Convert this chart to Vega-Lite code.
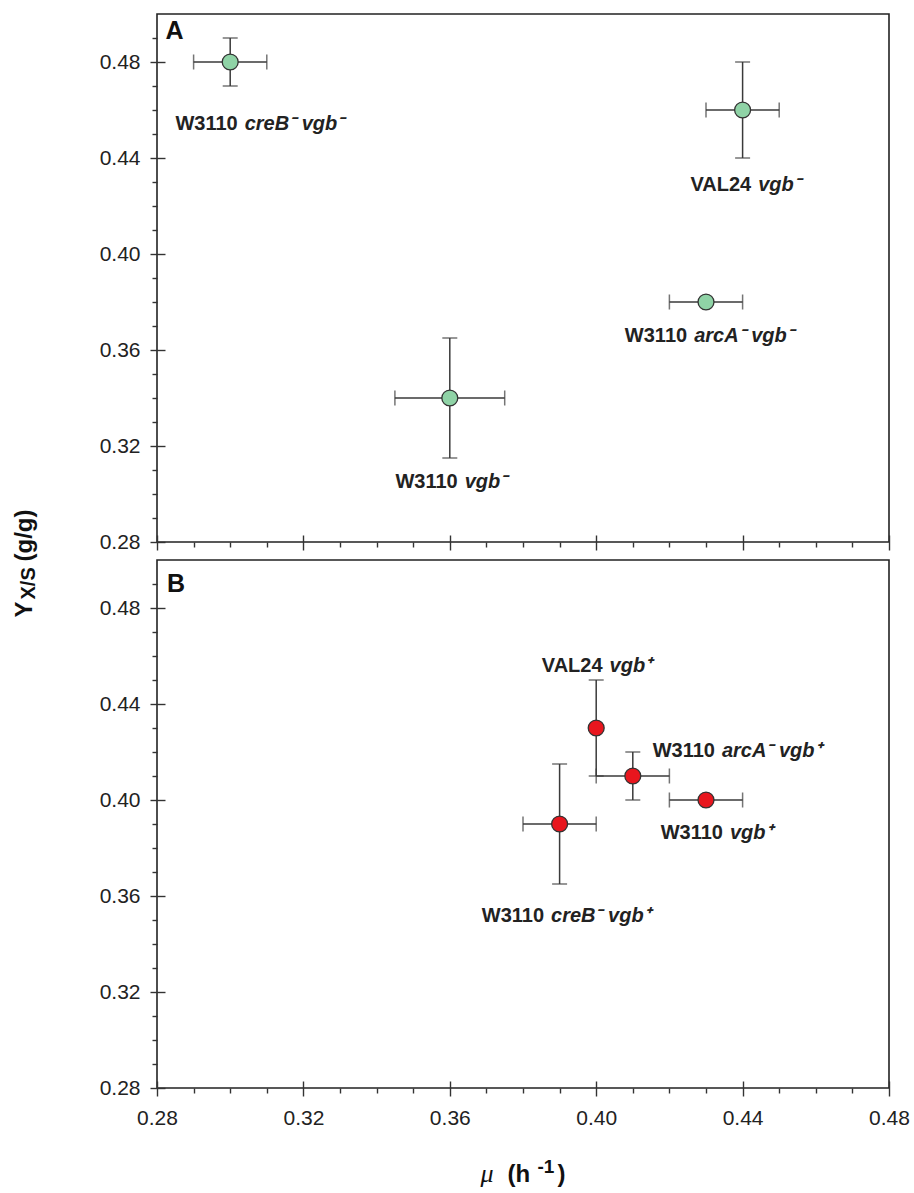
{
  "$schema": "https://vega.github.io/schema/vega-lite/v6.json",
  "background": "white",
  "padding": {"left": 11, "top": 13, "right": 10, "bottom": 5},
  "datasets": {
    "A": [
      {"strain": "W3110", "geno": "creB⁻ vgb⁻", "mu": 0.30, "muLo": 0.29, "muHi": 0.31, "yxs": 0.48, "yLo": 0.47, "yHi": 0.49, "lx": 0.3030, "ly": 0.4517},
      {"strain": "VAL24", "geno": "vgb⁻", "mu": 0.44, "muLo": 0.43, "muHi": 0.45, "yxs": 0.46, "yLo": 0.44, "yHi": 0.48, "lx": 0.4433, "ly": 0.4261},
      {"strain": "W3110", "geno": "arcA⁻ vgb⁻", "mu": 0.43, "muLo": 0.42, "muHi": 0.44, "yxs": 0.38, "yLo": null, "yHi": null, "lx": 0.4258, "ly": 0.3635},
      {"strain": "W3110", "geno": "vgb⁻", "mu": 0.36, "muLo": 0.345, "muHi": 0.375, "yxs": 0.34, "yLo": 0.315, "yHi": 0.365, "lx": 0.3631, "ly": 0.3027}
    ],
    "B": [
      {"strain": "VAL24", "geno": "vgb⁺", "mu": 0.40, "muLo": null, "muHi": null, "yxs": 0.43, "yLo": 0.41, "yHi": 0.45, "lx": 0.4027, "ly": 0.4535},
      {"strain": "W3110", "geno": "arcA⁻ vgb⁺", "mu": 0.41, "muLo": 0.40, "muHi": 0.42, "yxs": 0.41, "yLo": 0.40, "yHi": 0.42, "lx": 0.4334, "ly": 0.4178},
      {"strain": "W3110", "geno": "vgb⁺", "mu": 0.43, "muLo": 0.42, "muHi": 0.44, "yxs": 0.40, "yLo": null, "yHi": null, "lx": 0.4356, "ly": 0.3838},
      {"strain": "W3110", "geno": "creB⁻ vgb⁺", "mu": 0.39, "muLo": 0.38, "muHi": 0.40, "yxs": 0.39, "yLo": 0.365, "yHi": 0.415, "lx": 0.3867, "ly": 0.349}
    ],
    "LA": [{"letter": "A", "lx": 0.2823, "ly": 0.4894}],
    "LB": [{"letter": "B", "lx": 0.2827, "ly": 0.4865}]
  },
  "vconcat": [
    {
      "width": 732,
      "height": 528,
      "data": {"name": "A"},
      "layer": [
        {
          "transform": [{"filter": "datum.yLo != null"}],
          "mark": {"type": "errorbar", "ticks": {"size": 15, "thickness": 1.5, "color": "#3a3a3a"}, "rule": {"strokeWidth": 1.5, "color": "#3a3a3a"}},
          "encoding": {
            "x": {"field": "mu", "type": "quantitative", "scale": {"domain": [0.28, 0.48], "nice": false, "zero": false},
              "axis": {"orient": "bottom", "values": [0.28, 0.32, 0.36, 0.40, 0.44, 0.48], "tickSize": 15, "offset": -7, "labels": false, "title": null}},
            "y": {"field": "yLo", "type": "quantitative", "scale": {"domain": [0.28, 0.50], "nice": false, "zero": false},
              "axis": {"orient": "left", "values": [0.28, 0.32, 0.36, 0.40, 0.44, 0.48], "tickSize": 15, "offset": -8, "format": ".2f", "labelPadding": 10, "title": null}},
            "y2": {"field": "yHi"}
          }
        },
        {
          "transform": [{"filter": "datum.muLo != null"}],
          "mark": {"type": "errorbar", "ticks": {"size": 15, "thickness": 1.5, "color": "#3a3a3a"}, "rule": {"strokeWidth": 1.5, "color": "#3a3a3a"}},
          "encoding": {
            "x": {"field": "muLo", "type": "quantitative",
              "axis": {"orient": "bottom", "values": [0.29, 0.30, 0.31, 0.33, 0.34, 0.35, 0.37, 0.38, 0.39, 0.41, 0.42, 0.43, 0.45, 0.46, 0.47], "tickSize": 5, "labels": false, "title": null}},
            "x2": {"field": "muHi"},
            "y": {"field": "yxs", "type": "quantitative",
              "axis": {"orient": "left", "values": [0.29, 0.30, 0.31, 0.33, 0.34, 0.35, 0.37, 0.38, 0.39, 0.41, 0.42, 0.43, 0.45, 0.46, 0.47, 0.49], "tickSize": 5, "labels": false, "title": null}}
          }
        },
        {
          "mark": {"type": "point", "shape": "circle", "filled": true, "size": 254, "fill": "#8fd3a6", "stroke": "#333333", "strokeWidth": 1.3, "opacity": 1},
          "encoding": {
            "x": {"field": "mu", "type": "quantitative", "axis": null},
            "y": {"field": "yxs", "type": "quantitative",
              "axis": {"orient": "left", "labels": false, "ticks": false, "domain": false, "title": "Y", "titleAngle": 270, "titleX": -126, "titleY": 603, "titleAlign": "left", "titleBaseline": "alphabetic", "titleFontSize": 24, "titleFontWeight": "bold"}}
          }
        },
        {
          "mark": {"type": "text", "align": "right", "baseline": "alphabetic", "dx": -3.5, "fontSize": 20, "fontWeight": "bold", "color": "#222222"},
          "encoding": {
            "x": {"field": "lx", "type": "quantitative", "axis": null},
            "y": {"field": "ly", "type": "quantitative",
              "axis": {"orient": "left", "labels": false, "ticks": false, "domain": false, "title": "X/S", "titleAngle": 270, "titleX": -123, "titleY": 585, "titleAlign": "left", "titleBaseline": "alphabetic", "titleFontSize": 20, "titleFontWeight": "bold"}},
            "text": {"field": "strain"}
          }
        },
        {
          "mark": {"type": "text", "align": "left", "baseline": "alphabetic", "dx": 3.5, "fontSize": 20, "fontWeight": "bold", "fontStyle": "italic", "color": "#222222"},
          "encoding": {
            "x": {"field": "lx", "type": "quantitative", "axis": null},
            "y": {"field": "ly", "type": "quantitative",
              "axis": {"orient": "left", "labels": false, "ticks": false, "domain": false, "title": "(g/g)", "titleAngle": 270, "titleX": -126, "titleY": 547, "titleAlign": "left", "titleBaseline": "alphabetic", "titleFontSize": 24, "titleFontWeight": "bold"}},
            "text": {"field": "geno"}
          }
        },
        {
          "data": {"name": "LA"},
          "mark": {"type": "text", "align": "left", "baseline": "alphabetic", "fontSize": 25, "fontWeight": "bold", "color": "#111111"},
          "encoding": {
            "x": {"field": "lx", "type": "quantitative", "axis": null},
            "y": {"field": "ly", "type": "quantitative", "axis": null},
            "text": {"field": "letter"}
          }
        }
      ],
      "resolve": {"axis": {"x": "independent", "y": "independent"}}
    },
    {
      "width": 732,
      "height": 528,
      "data": {"name": "B"},
      "layer": [
        {
          "transform": [{"filter": "datum.yLo != null"}],
          "mark": {"type": "errorbar", "ticks": {"size": 15, "thickness": 1.5, "color": "#3a3a3a"}, "rule": {"strokeWidth": 1.5, "color": "#3a3a3a"}},
          "encoding": {
            "x": {"field": "mu", "type": "quantitative", "scale": {"domain": [0.28, 0.48], "nice": false, "zero": false},
              "axis": {"orient": "bottom", "values": [0.28, 0.32, 0.36, 0.40, 0.44, 0.48], "tickSize": 15, "offset": -7, "format": ".2f", "labelPadding": 11, "title": null}},
            "y": {"field": "yLo", "type": "quantitative", "scale": {"domain": [0.28, 0.50], "nice": false, "zero": false},
              "axis": {"orient": "left", "values": [0.28, 0.32, 0.36, 0.40, 0.44, 0.48], "tickSize": 15, "offset": -8, "format": ".2f", "labelPadding": 10, "title": null}},
            "y2": {"field": "yHi"}
          }
        },
        {
          "transform": [{"filter": "datum.muLo != null"}],
          "mark": {"type": "errorbar", "ticks": {"size": 15, "thickness": 1.5, "color": "#3a3a3a"}, "rule": {"strokeWidth": 1.5, "color": "#3a3a3a"}},
          "encoding": {
            "x": {"field": "muLo", "type": "quantitative",
              "axis": {"orient": "bottom", "values": [0.29, 0.30, 0.31, 0.33, 0.34, 0.35, 0.37, 0.38, 0.39, 0.41, 0.42, 0.43, 0.45, 0.46, 0.47], "tickSize": 5, "labels": false, "title": null}},
            "x2": {"field": "muHi"},
            "y": {"field": "yxs", "type": "quantitative",
              "axis": {"orient": "left", "values": [0.29, 0.30, 0.31, 0.33, 0.34, 0.35, 0.37, 0.38, 0.39, 0.41, 0.42, 0.43, 0.45, 0.46, 0.47, 0.49], "tickSize": 5, "labels": false, "title": null}}
          }
        },
        {
          "mark": {"type": "point", "shape": "circle", "filled": true, "size": 254, "fill": "#e8161e", "stroke": "#333333", "strokeWidth": 1.3, "opacity": 1},
          "encoding": {
            "x": {"field": "mu", "type": "quantitative",
              "axis": {"orient": "bottom", "labels": false, "ticks": false, "domain": false, "title": "μ", "titleX": 323, "titleY": 93, "titleAlign": "left", "titleBaseline": "alphabetic", "titleFontSize": 26, "titleFont": "Liberation Serif", "titleFontStyle": "italic", "titleFontWeight": "normal"}},
            "y": {"field": "yxs", "type": "quantitative", "axis": null}
          }
        },
        {
          "mark": {"type": "text", "align": "right", "baseline": "alphabetic", "dx": -3.5, "fontSize": 20, "fontWeight": "bold", "color": "#222222"},
          "encoding": {
            "x": {"field": "lx", "type": "quantitative",
              "axis": {"orient": "bottom", "labels": false, "ticks": false, "domain": false, "title": "(h", "titleX": 350, "titleY": 93, "titleAlign": "left", "titleBaseline": "alphabetic", "titleFontSize": 24, "titleFontWeight": "bold"}},
            "y": {"field": "ly", "type": "quantitative", "axis": null},
            "text": {"field": "strain"}
          }
        },
        {
          "mark": {"type": "text", "align": "left", "baseline": "alphabetic", "dx": 3.5, "fontSize": 20, "fontWeight": "bold", "fontStyle": "italic", "color": "#222222"},
          "encoding": {
            "x": {"field": "lx", "type": "quantitative",
              "axis": {"orient": "bottom", "labels": false, "ticks": false, "domain": false, "title": "-1", "titleX": 380, "titleY": 84, "titleAlign": "left", "titleBaseline": "alphabetic", "titleFontSize": 19, "titleFontWeight": "bold"}},
            "y": {"field": "ly", "type": "quantitative", "axis": null},
            "text": {"field": "geno"}
          }
        },
        {
          "data": {"name": "LB"},
          "mark": {"type": "text", "align": "left", "baseline": "alphabetic", "fontSize": 25, "fontWeight": "bold", "color": "#111111"},
          "encoding": {
            "x": {"field": "lx", "type": "quantitative",
              "axis": {"orient": "bottom", "labels": false, "ticks": false, "domain": false, "title": ")", "titleX": 400, "titleY": 93, "titleAlign": "left", "titleBaseline": "alphabetic", "titleFontSize": 24, "titleFontWeight": "bold"}},
            "y": {"field": "ly", "type": "quantitative", "axis": null},
            "text": {"field": "letter"}
          }
        }
      ],
      "resolve": {"axis": {"x": "independent", "y": "independent"}}
    }
  ],
  "spacing": 18,
  "bounds": "flush",
  "config": {
    "font": "Liberation Sans",
    "view": {"stroke": "#222222", "strokeWidth": 1.6},
    "axis": {"grid": false, "domain": false, "tickColor": "#333333", "tickWidth": 1.4, "labelColor": "#222222", "labelFontSize": 21, "labelFont": "Liberation Sans", "labelFlush": false, "labelOverlap": false, "titleColor": "#111111", "titleFont": "Liberation Sans"},
    "text": {"font": "Liberation Sans"}
  }
}
